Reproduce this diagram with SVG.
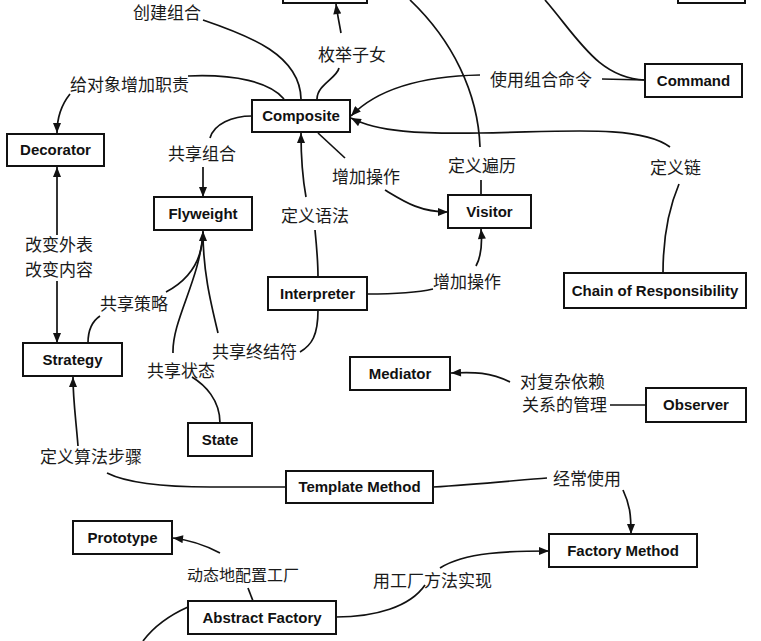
<svg xmlns="http://www.w3.org/2000/svg" width="761" height="641" viewBox="0 0 761 641">
<defs>
<style>
.box{fill:#fff;stroke:#111;stroke-width:2}
.bl{font-family:"Liberation Sans",Arial,sans-serif;font-weight:bold;font-size:15px;fill:#111;text-anchor:middle}
.lb{font-family:"Noto Sans CJK SC","Noto Sans",sans-serif;font-size:17px;fill:#1a1a1a}
.ln{fill:none;stroke:#111;stroke-width:1.7}
.ar{marker-end:url(#arr)}
</style>
<marker id="arr" viewBox="0 0 10 8" refX="10" refY="4" markerWidth="11" markerHeight="8" orient="auto-start-reverse" markerUnits="userSpaceOnUse"><path d="M0,0 L10,4 L0,8 z" fill="#111"/></marker>
</defs>
<rect width="761" height="641" fill="#fff"/>
<g id="connectors">
<path class="ln" d="M203,20 C250,36 300,55 301,99"/>
<path class="ln" d="M317,99 C317,85 337,78 339,68"/>
<path class="ln ar" d="M341,33 C339,22 337,12 336,4"/>
<path class="ln" d="M284,99 C270,82 235,74 188,76"/>
<path class="ln ar" d="M70,94 C62,104 57,116 57,133"/>
<path class="ln" d="M57,167 L57,235" style="marker-start:url(#arr)"/>
<path class="ln ar" d="M57,281 L57,343"/>
<path class="ln" d="M252,116 C232,116 214,124 210,138"/>
<path class="ln ar" d="M203,167 L203,197"/>
<path class="ln ar" d="M480,75 C430,76 380,86 351,116"/>
<path class="ln" d="M602,79 L645,80"/>
<path class="ln" d="M545,0 C578,38 598,78 645,80"/>
<path class="ln" d="M663,273 C663,240 668,210 679,184"/>
<path class="ln ar" d="M670,147 C640,124 560,132 480,133 C420,134 378,132 351,118"/>
<path class="ln" d="M410,0 C452,40 478,92 480,147"/>
<path class="ln" d="M481,180 L481,195"/>
<path class="ln" d="M318,133 L345,158"/>
<path class="ln ar" d="M385,190 C405,202 420,212 448,212"/>
<path class="ln ar" d="M306,197 C302,175 301,155 301,133"/>
<path class="ln" d="M315,230 C317,250 318,262 318,277"/>
<path class="ln" d="M367,294 C400,294 420,292 433,289"/>
<path class="ln ar" d="M476,266 C482,255 482,240 481,229"/>
<path class="ln" d="M88,343 C88,328 94,320 100,316"/>
<path class="ln ar" d="M166,292 C185,282 203,265 203,231"/>
<path class="ln" d="M220,423 C220,400 205,385 192,377"/>
<path class="ln" d="M173,353 C172,320 200,280 203,232"/>
<path class="ln" d="M318,310 C318,335 312,345 300,352"/>
<path class="ln" d="M218,333 C210,300 203,270 203,232"/>
<path class="ln" d="M646,405 L610,405"/>
<path class="ln ar" d="M510,382 C490,372 475,372 451,373"/>
<path class="ln" d="M286,487 L210,487 C160,487 125,482 107,473"/>
<path class="ln ar" d="M78,446 C76,420 73,400 73,377"/>
<path class="ln" d="M433,487 C480,484 520,480 547,478"/>
<path class="ln ar" d="M623,490 C630,505 631,515 631,534"/>
<path class="ln" d="M336,617 C375,617 410,607 425,585"/>
<path class="ln ar" d="M440,568 C465,552 510,551 549,551"/>
<path class="ln" d="M253,601 L248,588"/>
<path class="ln ar" d="M220,553 C205,545 190,540 173,538"/>
<path class="ln" d="M188,607 C170,615 155,625 143,641"/>
</g>
<g id="node-top"><rect class="box" x="283" y="-40" width="84" height="43"/></g>
<g id="node-topright"><rect class="box" x="678" y="-40" width="67" height="43"/></g>
<g id="node-composite"><rect class="box" x="252" y="100" width="98" height="32"/><text class="bl" x="301" y="121">Composite</text></g>
<g id="node-decorator"><rect class="box" x="7" y="134" width="97" height="32"/><text class="bl" x="55.5" y="155">Decorator</text></g>
<g id="node-flyweight"><rect class="box" x="154" y="197" width="98" height="33"/><text class="bl" x="203" y="218.5">Flyweight</text></g>
<g id="node-visitor"><rect class="box" x="448" y="195" width="83" height="33"/><text class="bl" x="489.5" y="216.5">Visitor</text></g>
<g id="node-command"><rect class="box" x="645" y="64" width="97" height="33"/><text class="bl" x="693.5" y="85.5">Command</text></g>
<g id="node-interpreter"><rect class="box" x="268" y="277" width="99" height="33"/><text class="bl" x="317.5" y="298.5">Interpreter</text></g>
<g id="node-chain"><rect class="box" x="564" y="273" width="182" height="35"/><text class="bl" x="655" y="296">Chain of Responsibility</text></g>
<g id="node-strategy"><rect class="box" x="23" y="343" width="99" height="33"/><text class="bl" x="72.5" y="364.5">Strategy</text></g>
<g id="node-mediator"><rect class="box" x="350" y="357" width="100" height="33"/><text class="bl" x="400" y="378.5">Mediator</text></g>
<g id="node-observer"><rect class="box" x="646" y="388" width="100" height="34"/><text class="bl" x="696" y="410">Observer</text></g>
<g id="node-state"><rect class="box" x="188" y="423" width="64" height="33"/><text class="bl" x="220" y="444.5">State</text></g>
<g id="node-template"><rect class="box" x="286" y="471" width="147" height="32"/><text class="bl" x="359.5" y="492">Template Method</text></g>
<g id="node-prototype"><rect class="box" x="73" y="521" width="99" height="33"/><text class="bl" x="122.5" y="542.5">Prototype</text></g>
<g id="node-factory"><rect class="box" x="549" y="534" width="148" height="33"/><text class="bl" x="623" y="555.5">Factory Method</text></g>
<g id="node-abstract"><rect class="box" x="188" y="601" width="148" height="33"/><text class="bl" x="262" y="622.5">Abstract Factory</text></g>
<g id="labels">
<text class="lb" x="133" y="19">创建组合</text>
<text class="lb" x="318" y="61">枚举子女</text>
<text class="lb" x="70" y="91">给对象增加职责</text>
<text class="lb" x="490" y="86">使用组合命令</text>
<text class="lb" x="168" y="160">共享组合</text>
<text class="lb" x="332" y="183">增加操作</text>
<text class="lb" x="448" y="172">定义遍历</text>
<text class="lb" x="650" y="174">定义链</text>
<text class="lb" x="281" y="222">定义语法</text>
<text class="lb" x="25" y="251">改变外表</text>
<text class="lb" x="25" y="276">改变内容</text>
<text class="lb" x="100" y="310">共享策略</text>
<text class="lb" x="212" y="358">共享终结符</text>
<text class="lb" x="147" y="377">共享状态</text>
<text class="lb" x="433" y="288">增加操作</text>
<text class="lb" x="520" y="388">对复杂依赖</text>
<text class="lb" x="522" y="411">关系的管理</text>
<text class="lb" x="40" y="463">定义算法步骤</text>
<text class="lb" x="553" y="485">经常使用</text>
<text class="lb" x="187" y="581" style="font-size:16px">动态地配置工厂</text>
<text class="lb" x="373" y="587">用工厂方法实现</text>
</g>
</svg>
